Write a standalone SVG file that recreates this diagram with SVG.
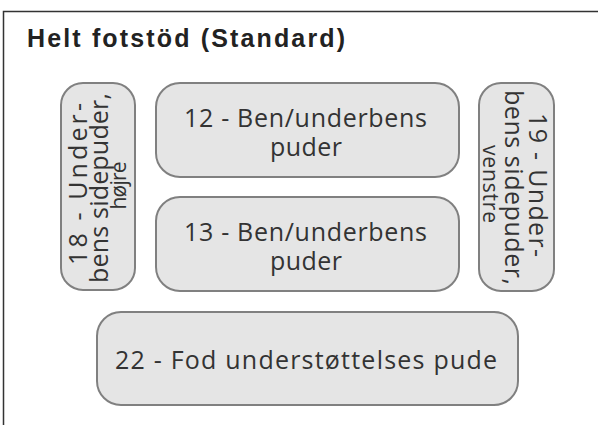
<svg xmlns="http://www.w3.org/2000/svg" width="598" height="425" viewBox="0 0 598 425">
<style>
.box{fill:#e5e5e5;stroke:#808080;stroke-width:2}
.lbl{font-family:"Open Sans",Lato,"DejaVu Sans",sans-serif;font-weight:normal;font-size:25px;fill:#333;text-anchor:middle}
.sm{font-size:21px}
.title{font-family:"Liberation Sans",Arial,sans-serif;font-weight:bold;font-size:25px;fill:#222}
.frame{fill:none;stroke:#333;stroke-width:1.5}
</style>
<rect width="598" height="425" fill="#fff"/>
<path class="frame" d="M3.5,425 V11.5 H598"/>
<text class="title" x="27" y="47" textLength="318" lengthAdjust="spacing">Helt fotstöd (Standard)</text>
<g id="n18">
<rect class="box" x="61" y="83" width="74" height="207" rx="22"/>
<g transform="translate(87,184) rotate(-90)"><text class="lbl" x="0" y="0" textLength="162">18 - Under-</text></g>
<g transform="translate(108,188) rotate(-90)"><text class="lbl" x="0" y="0" textLength="190">bens sidepuder,</text></g>
<g transform="translate(125.5,185.5) rotate(-90)"><text class="lbl sm" x="0" y="0" textLength="48">højre</text></g>
</g>
<g id="n12">
<rect class="box" x="156" y="83" width="303" height="94" rx="24"/>
<text class="lbl" x="305.5" y="126.5" textLength="243">12 - Ben/underbens</text>
<text class="lbl" x="306" y="156" textLength="72">puder</text>
</g>
<g id="n13">
<rect class="box" x="156" y="197" width="303" height="94" rx="24"/>
<text class="lbl" x="305.5" y="240.5" textLength="243">13 - Ben/underbens</text>
<text class="lbl" x="306" y="270" textLength="72">puder</text>
</g>
<g id="n19">
<rect class="box" x="479" y="83" width="75" height="208" rx="22"/>
<g transform="translate(529,185) rotate(90)"><text class="lbl" x="0" y="0" textLength="144">19 - Under-</text></g>
<g transform="translate(505,187.5) rotate(90)"><text class="lbl" x="0" y="0" textLength="195">bens sidepuder,</text></g>
<g transform="translate(482.5,184) rotate(90)"><text class="lbl sm" x="0" y="0" textLength="78">venstre</text></g>
</g>
<g id="n22">
<rect class="box" x="97" y="312" width="421" height="93" rx="24"/>
<text class="lbl" x="306" y="369" textLength="382">22 - Fod understøttelses pude</text>
</g>
<g id="connectors"/>
</svg>
